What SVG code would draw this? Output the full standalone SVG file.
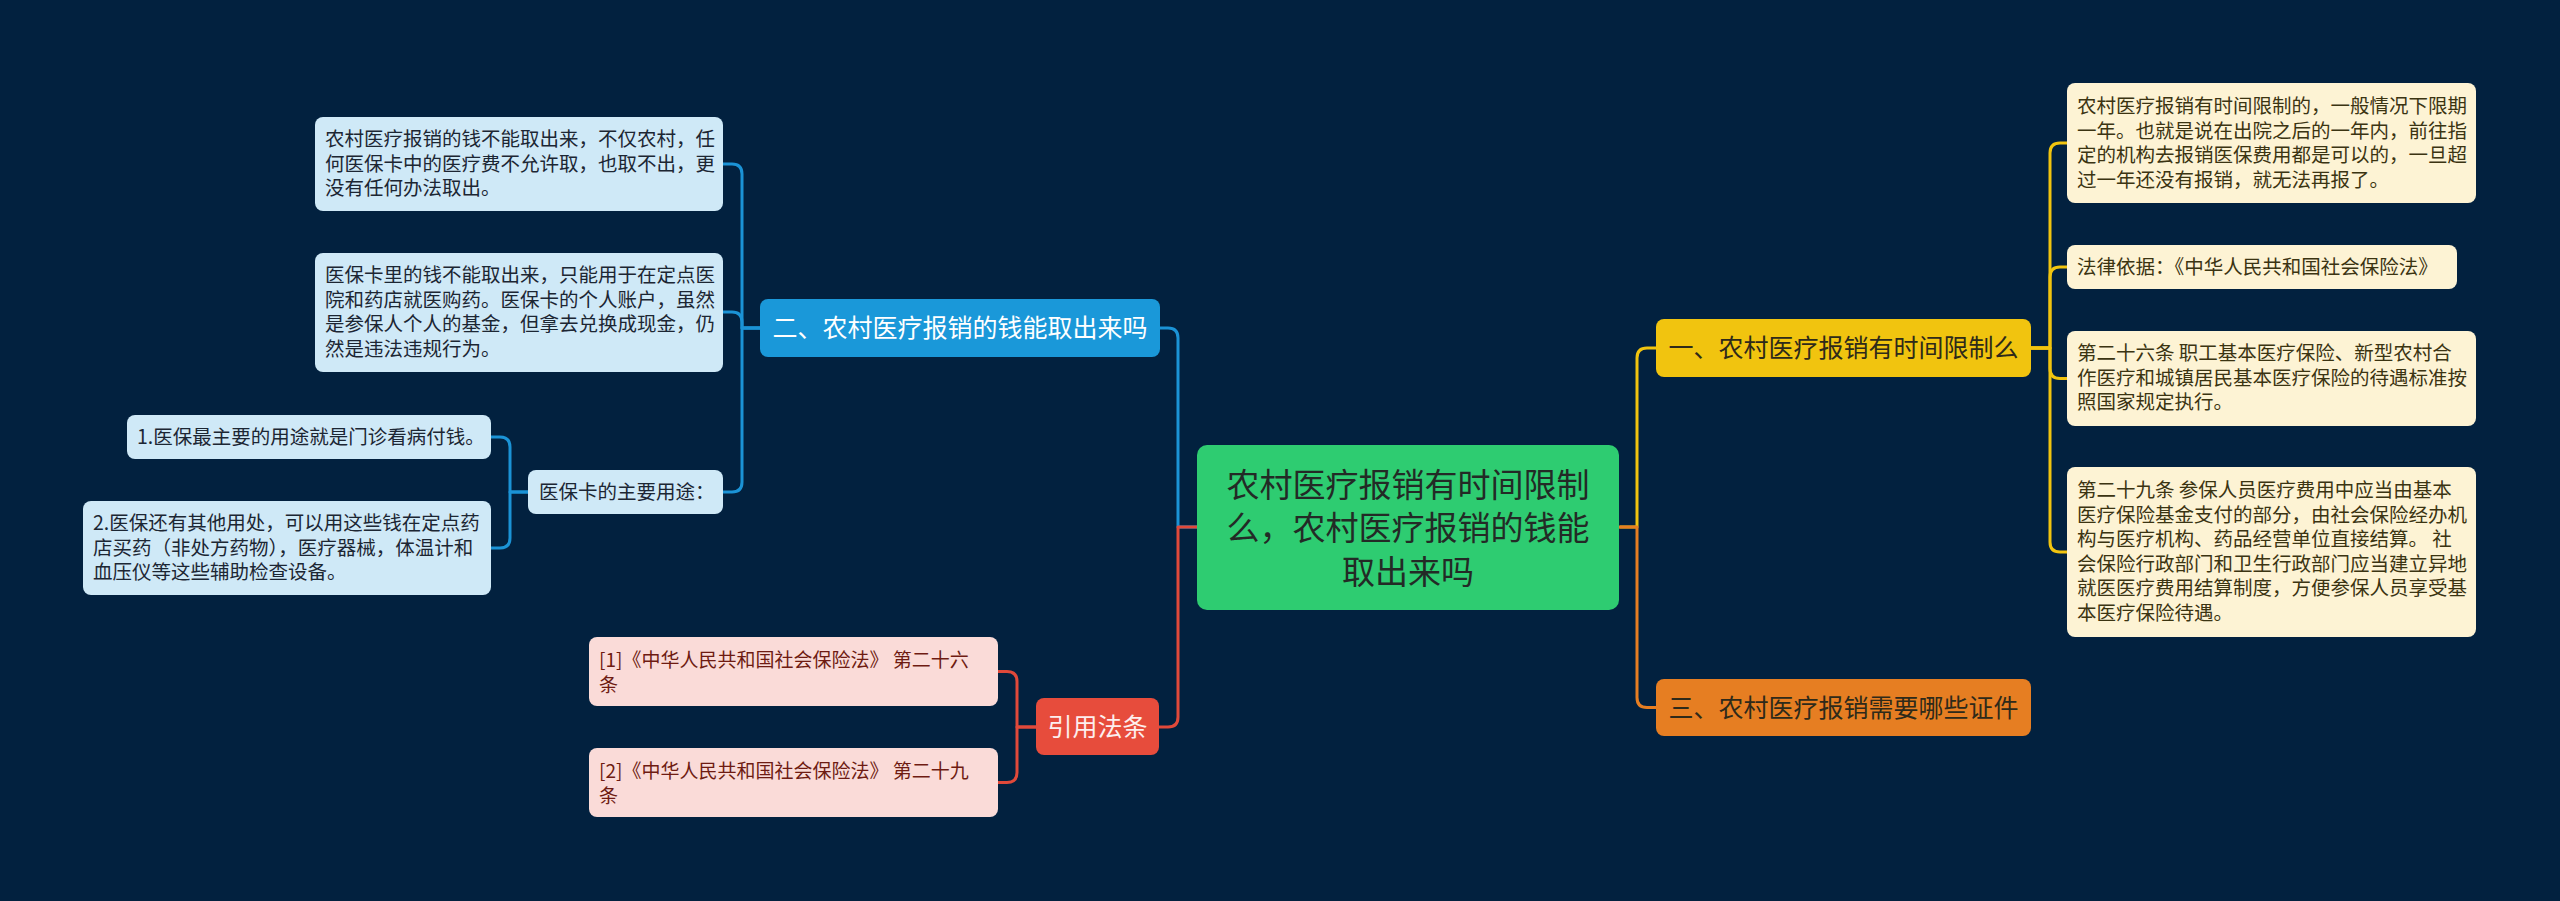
<svg xmlns="http://www.w3.org/2000/svg" width="2560" height="901" viewBox="0 0 2560 901">
<style>
text{font-family:"Noto Sans CJK SC","Noto Sans",sans-serif;}
.leaf{font-size:19.5px;}
.cite{font-size:19px;}
.main{font-size:25px;}
.ln{fill:none;stroke-width:3;stroke-linecap:round;stroke-linejoin:round;}
.blue{stroke:#1b93d6;}
.yellow{stroke:#f1c40f;}
.orange{stroke:#e67e22;}
.red{stroke:#e0493a;}
.bl rect{fill:#cfe9f7;}
.bl text{fill:#1c2633;}
.yl rect{fill:#fdf3d4;}
.yl text{fill:#3b3412;}
.rl rect{fill:#fadbd8;}
.rl text{fill:#6e1b12;}
</style>
<rect width="2560" height="901" fill="#02213f"/>
<g id="connectors">
<path class="ln blue" d="M1197,527 H1178 V338 Q1178,328 1168,328 H1160"/>
<path class="ln red" d="M1197,527 H1178 V717 Q1178,727 1168,727 H1159"/>
<path class="ln yellow" d="M1620,527 H1637 V358 Q1637,348 1647,348 H1656"/>
<path class="ln orange" d="M1620,527 H1637 V697.5 Q1637,707.5 1647,707.5 H1656"/>
<path class="ln blue" d="M760,328 H742 V174 Q742,164 732,164 H723"/>
<path class="ln blue" d="M760,328 H742 V322 Q742,312 732,312 H723"/>
<path class="ln blue" d="M760,328 H742 V482 Q742,492 732,492 H723"/>
<path class="ln blue" d="M528,492 H510 V447 Q510,437 500,437 H491"/>
<path class="ln blue" d="M528,492 H510 V538 Q510,548 500,548 H491"/>
<path class="ln yellow" d="M2031,348 H2050 V153 Q2050,143 2060,143 H2067"/>
<path class="ln yellow" d="M2031,348 H2050 V277 Q2050,267 2060,267 H2067"/>
<path class="ln yellow" d="M2031,348 H2050 V368.5 Q2050,378.5 2060,378.5 H2067"/>
<path class="ln yellow" d="M2031,348 H2050 V542 Q2050,552 2060,552 H2067"/>
<path class="ln red" d="M1036,727 H1017 V681.5 Q1017,671.5 1007,671.5 H998"/>
<path class="ln red" d="M1036,727 H1017 V772.5 Q1017,782.5 1007,782.5 H998"/>
</g>
<g id="central">
<rect x="1197" y="445" width="422" height="165" rx="10" fill="#2ecc71"/>
<text x="1408" font-size="33" text-anchor="middle" fill="#232a26"><tspan x="1408" y="497">农村医疗报销有时间限制</tspan><tspan x="1408" y="540">么，农村医疗报销的钱能</tspan><tspan x="1408" y="584">取出来吗</tspan></text>
</g>
<g id="n-blue">
<rect x="760" y="299" width="400" height="58" rx="8" fill="#1a98d9"/>
<text class="main" x="960" y="337" text-anchor="middle" fill="#ffffff">二、农村医疗报销的钱能取出来吗</text>
</g>
<g id="n-yellow">
<rect x="1656" y="319" width="375" height="58" rx="8" fill="#f1c40f"/>
<text class="main" x="1843.5" y="357" text-anchor="middle" fill="#2e2a1a">一、农村医疗报销有时间限制么</text>
</g>
<g id="n-orange">
<rect x="1656" y="679" width="375" height="57" rx="8" fill="#e67e22"/>
<text class="main" x="1843.5" y="716.5" text-anchor="middle" fill="#2e2a1a">三、农村医疗报销需要哪些证件</text>
</g>
<g id="n-red">
<rect x="1036" y="698" width="123" height="57" rx="8" fill="#e74c3c"/>
<text class="main" x="1097.5" y="736" text-anchor="middle" fill="#fdeeee">引用法条</text>
</g>
<g id="b1" class="bl">
<rect x="315" y="117" width="408" height="94" rx="8"/>
<text class="leaf"><tspan x="325" y="146">农村医疗报销的钱不能取出来，不仅农村，任</tspan><tspan x="325" y="170.5">何医保卡中的医疗费不允许取，也取不出，更</tspan><tspan x="325" y="195">没有任何办法取出。</tspan></text>
</g>
<g id="b2" class="bl">
<rect x="315" y="253" width="408" height="119" rx="8"/>
<text class="leaf"><tspan x="325" y="282">医保卡里的钱不能取出来，只能用于在定点医</tspan><tspan x="325" y="306.5">院和药店就医购药。医保卡的个人账户，虽然</tspan><tspan x="325" y="331">是参保人个人的基金，但拿去兑换成现金，仍</tspan><tspan x="325" y="355.5">然是违法违规行为。</tspan></text>
</g>
<g id="b3" class="bl">
<rect x="528" y="470" width="195" height="44" rx="8"/>
<text class="leaf" x="539" y="499">医保卡的主要用途：</text>
</g>
<g id="b3a" class="bl">
<rect x="127" y="415" width="364" height="44" rx="8"/>
<text class="leaf" x="137" y="444">1.医保最主要的用途就是门诊看病付钱。</text>
</g>
<g id="b3b" class="bl">
<rect x="83" y="501" width="408" height="94" rx="8"/>
<text class="leaf"><tspan x="93" y="530">2.医保还有其他用处，可以用这些钱在定点药</tspan><tspan x="93" y="554.5">店买药（非处方药物），医疗器械，体温计和</tspan><tspan x="93" y="579">血压仪等这些辅助检查设备。</tspan></text>
</g>
<g id="y1" class="yl">
<rect x="2067" y="83" width="409" height="120" rx="8"/>
<text class="leaf"><tspan x="2077" y="113">农村医疗报销有时间限制的，一般情况下限期</tspan><tspan x="2077" y="137.5">一年。也就是说在出院之后的一年内，前往指</tspan><tspan x="2077" y="162">定的机构去报销医保费用都是可以的，一旦超</tspan><tspan x="2077" y="186.5">过一年还没有报销，就无法再报了。</tspan></text>
</g>
<g id="y2" class="yl">
<rect x="2067" y="245" width="390" height="44" rx="8"/>
<text class="leaf" x="2077" y="274">法律依据：《中华人民共和国社会保险法》</text>
</g>
<g id="y3" class="yl">
<rect x="2067" y="331" width="409" height="95" rx="8"/>
<text class="leaf"><tspan x="2077" y="360">第二十六条 职工基本医疗保险、新型农村合</tspan><tspan x="2077" y="384.5">作医疗和城镇居民基本医疗保险的待遇标准按</tspan><tspan x="2077" y="409">照国家规定执行。</tspan></text>
</g>
<g id="y4" class="yl">
<rect x="2067" y="467" width="409" height="170" rx="8"/>
<text class="leaf"><tspan x="2077" y="497">第二十九条 参保人员医疗费用中应当由基本</tspan><tspan x="2077" y="521.5">医疗保险基金支付的部分，由社会保险经办机</tspan><tspan x="2077" y="546">构与医疗机构、药品经营单位直接结算。 社</tspan><tspan x="2077" y="570.5">会保险行政部门和卫生行政部门应当建立异地</tspan><tspan x="2077" y="595">就医医疗费用结算制度，方便参保人员享受基</tspan><tspan x="2077" y="619.5">本医疗保险待遇。</tspan></text>
</g>
<g id="c1" class="rl">
<rect x="589" y="637" width="409" height="69" rx="8"/>
<text class="cite"><tspan x="599" y="667">[1]《中华人民共和国社会保险法》 第二十六</tspan><tspan x="599" y="691.5">条</tspan></text>
</g>
<g id="c2" class="rl">
<rect x="589" y="748" width="409" height="69" rx="8"/>
<text class="cite"><tspan x="599" y="778">[2]《中华人民共和国社会保险法》 第二十九</tspan><tspan x="599" y="802.5">条</tspan></text>
</g>
</svg>
